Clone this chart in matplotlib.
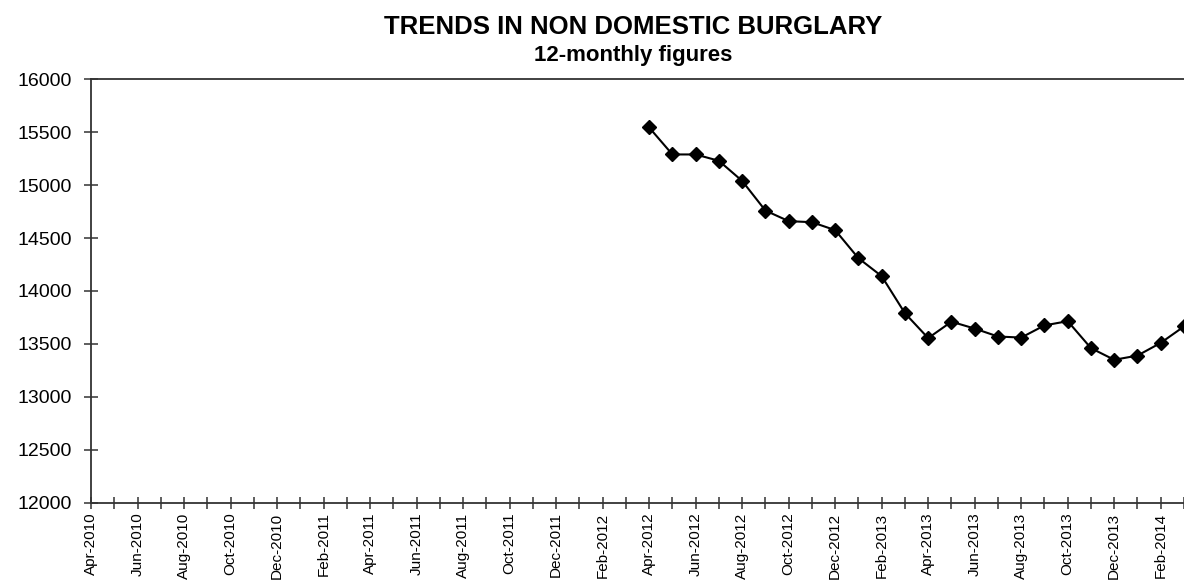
import numpy as np
import pandas as pd
import matplotlib
matplotlib.use('Agg')
import matplotlib.pyplot as plt

# months on the category axis, Apr-2010 .. Mar-2014
months = pd.date_range('2010-04-01', '2014-03-01', freq='MS')
month_labels = [m.strftime('%b-%Y') for m in months]

# 12-monthly non domestic burglary figures, series starts Apr-2012
first_month = '2012-04-01'
burglary = [15545, 15290, 15290, 15230, 15040, 14760, 14660, 14650, 14575,
            14310, 14140, 13790, 13555, 13710, 13645, 13570, 13560, 13675,
            13715, 13460, 13350, 13390, 13510, 13665]

y_ticks = [12000, 12500, 13000, 13500, 14000, 14500, 15000, 15500, 16000]


def main():
    plt.rcParams['font.family'] = ['Liberation Sans', 'DejaVu Sans']
    axis_col = '#333333'

    fig = plt.figure(figsize=(11.84, 5.85), dpi=100)
    ax = fig.add_axes([91 / 1184, 1 - 502.7 / 585, 1 - 91 / 1184, (502.7 - 79.3) / 585])

    start = months.get_loc(pd.Timestamp(first_month))
    x = np.arange(start, start + len(burglary))
    ax.plot(x, burglary, color='black', lw=1.5, marker='D', ms=7.5,
            markeredgecolor='black', markerfacecolor='black')

    ax.set_xlim(0, len(months) - 1)
    ax.set_ylim(y_ticks[0], y_ticks[-1])
    ax.set_yticks(y_ticks)
    ax.set_yticklabels([str(v) for v in y_ticks])

    # one tick per month, label every second month
    ax.set_xticks(np.arange(len(months)))
    ax.set_xticklabels([lab if i % 2 == 0 else '' for i, lab in enumerate(month_labels)],
                       rotation=90, ha='center', va='top')

    ax.spines['right'].set_visible(False)
    for s in ['left', 'top', 'bottom']:
        ax.spines[s].set_color(axis_col)
        ax.spines[s].set_linewidth(1.3)
    ax.tick_params(axis='y', direction='inout', length=9.5, width=1.1, color=axis_col,
                   labelsize=14, pad=9)
    ax.tick_params(axis='x', direction='inout', length=8, width=1.1, color=axis_col,
                   labelsize=11, pad=3)

    fig.text(0.535, 0.953, 'TRENDS IN NON DOMESTIC BURGLARY', ha='center', va='center',
             fontsize=18.5, fontweight='bold')
    fig.text(0.535, 0.905, '12-monthly figures', ha='center', va='center',
             fontsize=16, fontweight='bold')

    fig.savefig('out.png', dpi=100)


if __name__ == '__main__':
    main()
